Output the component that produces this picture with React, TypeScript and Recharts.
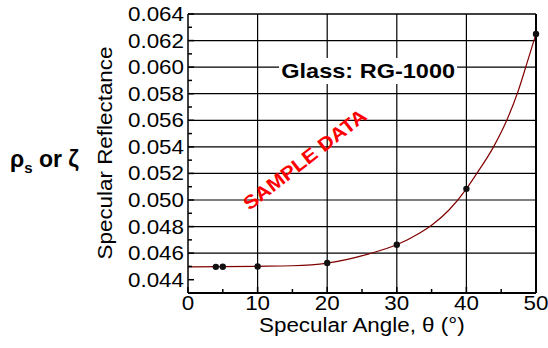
import React from 'react';
import { ComposedChart, Line, Scatter, XAxis, YAxis, ReferenceLine } from 'recharts';

// measured points
const angles = [4, 5, 10, 20, 30, 40, 50];
const reflect = [0.04497, 0.04498, 0.04499, 0.04526, 0.04663, 0.05084, 0.0625];

// fitted curve
const curveAngles = [0, 5, 10, 15, 20, 26, 30, 33.3, 35, 37.5, 40, 41.5, 43.9, 45.8, 47.5, 48.7, 50];
const curveVals = [0.04497, 0.04498, 0.04501, 0.04505, 0.04525, 0.04595, 0.04663, 0.04751, 0.0481, 0.04925, 0.05084, 0.052, 0.054, 0.056, 0.0583, 0.0603, 0.0625];

const xTicks = [0, 5, 10, 15, 20, 25, 30, 35, 40, 45, 50];
const xMajor = [0, 10, 20, 30, 40, 50];
const xGrid = [10, 20, 30, 40];
const yTicks = [0.044, 0.045, 0.046, 0.047, 0.048, 0.049, 0.05, 0.051, 0.052, 0.053, 0.054, 0.055, 0.056, 0.057, 0.058, 0.059, 0.06, 0.061, 0.062, 0.063, 0.064];
const yMajor = [0.044, 0.046, 0.048, 0.05, 0.052, 0.054, 0.056, 0.058, 0.06, 0.062, 0.064];
const yGrid = [0.046, 0.048, 0.05, 0.052, 0.054, 0.056, 0.058, 0.06, 0.062];

const points = angles.map((a, i) => ({ x: a, y: reflect[i] }));
const curve = curveAngles.map((a, i) => ({ x: a, y: curveVals[i] }));

const FONT = '"Liberation Sans", Arial, sans-serif';
const STRETCH = 1.12;
const MARGIN = 8;

const isMajor = (list: number[], v: number) => list.some((m) => Math.abs(m - v) < 1e-9);

const BottomTick = ({ x, y, payload }: any) => {
  const axisY = y - MARGIN;
  const major = isMajor(xMajor, payload.value);
  return (
    <g>
      <line x1={x} x2={x} y1={axisY} y2={axisY - (major ? 6 : 4)} stroke="#000" strokeWidth={1.5} />
      {major && (
        <text transform={`translate(${x},${axisY + 17}) scale(${STRETCH},1)`} textAnchor="middle" fontFamily={FONT} fontSize={20} fill="#000">
          {payload.value}
        </text>
      )}
    </g>
  );
};

const TopTick = ({ x, y }: any) => {
  const axisY = y + MARGIN;
  return <line x1={x} x2={x} y1={axisY} y2={axisY + 4} stroke="#000" strokeWidth={1.5} />;
};

const LeftTick = ({ x, y, payload }: any) => {
  const axisX = x + MARGIN;
  const major = isMajor(yMajor, payload.value);
  return (
    <g>
      <line x1={axisX} x2={axisX + (major ? 6 : 4)} y1={y} y2={y} stroke="#000" strokeWidth={1.5} />
      {major && (
        <text transform={`translate(${axisX - 4},${y + 7}) scale(${STRETCH},1)`} textAnchor="end" fontFamily={FONT} fontSize={20} fill="#000">
          {payload.value.toFixed(3)}
        </text>
      )}
    </g>
  );
};

const RightTick = ({ x, y }: any) => {
  const axisX = x - MARGIN;
  return <line x1={axisX} x2={axisX - 4} y1={y} y2={y} stroke="#000" strokeWidth={1.5} />;
};

const Dot = ({ cx, cy }: any) => <circle cx={cx} cy={cy} r={3.2} fill="#111" />;

export default function App() {
  return (
    <div style={{ position: 'absolute', left: 0, top: 0, width: 548, height: 348, background: '#fff' }}>
      <ComposedChart width={548} height={348} margin={{ top: 10, right: 6, bottom: 25, left: 118 }}>
        <XAxis xAxisId="b" type="number" dataKey="x" domain={[0, 50]} ticks={xTicks} interval={0}
          height={30} tickSize={0} tickMargin={MARGIN} tick={<BottomTick />} axisLine={{ stroke: '#000', strokeWidth: 2 }} />
        <XAxis xAxisId="t" orientation="top" type="number" domain={[0, 50]} ticks={xTicks} interval={0}
          height={4} tickSize={0} tickMargin={MARGIN} tick={<TopTick />} axisLine={{ stroke: '#000', strokeWidth: 1.5 }} />
        <YAxis yAxisId="l" type="number" dataKey="y" domain={[0.043, 0.064]} ticks={yTicks} interval={0}
          width={70} tickSize={0} tickMargin={MARGIN} tick={<LeftTick />} axisLine={{ stroke: '#000', strokeWidth: 1.5 }} />
        <YAxis yAxisId="r" orientation="right" type="number" domain={[0.043, 0.064]} ticks={yTicks} interval={0}
          width={6} tickSize={0} tickMargin={MARGIN} tick={<RightTick />} axisLine={{ stroke: '#000', strokeWidth: 2 }} />
        {yGrid.map((v) => (
          <ReferenceLine key={`h${v}`} xAxisId="b" yAxisId="l" y={v} stroke="#000" strokeWidth={1.2} />
        ))}
        {xGrid.map((v) => (
          <ReferenceLine key={`v${v}`} xAxisId="b" yAxisId="l" x={v} stroke="#000" strokeWidth={1.2} />
        ))}
        <Line xAxisId="b" yAxisId="l" data={curve} dataKey="y" type="monotone" stroke="#800000" strokeWidth={1.2}
          dot={false} activeDot={false} isAnimationActive={false} />
        <Scatter xAxisId="b" yAxisId="l" data={points} dataKey="y" shape={<Dot />} isAnimationActive={false} />
      </ComposedChart>

      <div style={{ position: 'absolute', left: 279, top: 58, fontFamily: FONT, fontWeight: 'bold', fontSize: 21, transform: `scaleX(${STRETCH})`, transformOrigin: 'left top', background: '#fff', padding: '0 2px', lineHeight: '26px', whiteSpace: 'nowrap' }}>
        Glass: RG-1000
      </div>

      <div style={{ position: 'absolute', left: 305, top: 160, fontFamily: FONT, fontWeight: 'bold', fontSize: 19, color: '#ff0000', whiteSpace: 'nowrap', transform: `translate(-50%, -50%) rotate(-38deg) scaleX(${STRETCH})` }}>
        SAMPLE DATA
      </div>

      <div style={{ position: 'absolute', left: 188, width: 348, top: 314, textAlign: 'center', fontFamily: FONT, fontSize: 20, whiteSpace: 'nowrap' }}>
        <span style={{ display: 'inline-block', transform: `scaleX(${STRETCH})` }}>Specular Angle, θ (°)</span>
      </div>

      <div style={{ position: 'absolute', left: 105, top: 153, fontFamily: FONT, fontSize: 20, whiteSpace: 'nowrap', transform: `translate(-50%, -50%) rotate(-90deg) scaleX(${STRETCH})` }}>
        Specular Reflectance
      </div>

      <div style={{ position: 'absolute', left: 10, top: 146, fontFamily: FONT, fontWeight: 'bold', fontSize: 23, whiteSpace: 'nowrap' }}>
        ρ<sub style={{ fontSize: 15 }}>s</sub> or ζ
      </div>
    </div>
  );
}
